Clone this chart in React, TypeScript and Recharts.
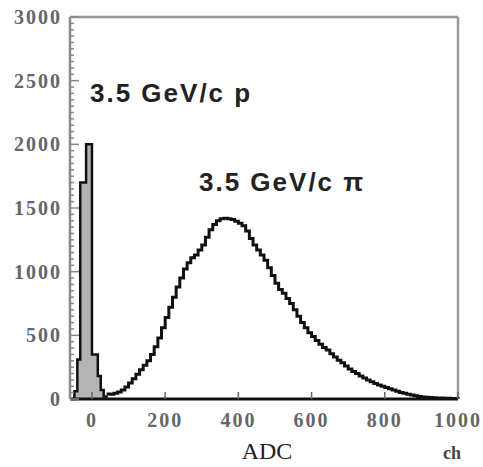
import { Area, ComposedChart, Customized, Line, ReferenceLine, XAxis, YAxis } from "recharts";

// proton peak, bin left edges (ADC ch) and counts
const PROTON_CH = [-56, -48, -40, -32, -24, -16, -8, 0, 8, 16, 24, 32, 40];
const PROTON_COUNTS = [0, 60, 310, 1700, 1700, 2000, 2000, 350, 350, 180, 70, 20, 0];

// pion distribution, bin left edges and counts
const PION_CH = [
  40, 50, 60, 70, 80, 90, 100, 110, 120, 130, 140, 150, 160, 170, 180, 190,
  200, 210, 220, 230, 240, 250, 260, 270, 280, 290, 300, 310, 320, 330, 340, 350,
  360, 370, 380, 390, 400, 410, 420, 430, 440, 450, 460, 470, 480, 490, 500, 510,
  520, 530, 540, 550, 560, 570, 580, 590, 600, 610, 620, 630, 640, 650, 660, 670,
  680, 690, 700, 710, 720, 730, 740, 750, 760, 770, 780, 790, 800, 810, 820, 830,
  840, 850, 860, 870, 880, 890, 900, 910, 920, 930, 940, 950, 960, 970, 980, 990,
  1000,
];
const PION_COUNTS = [
  40, 38, 45, 55, 70, 95, 125, 160, 195, 230, 265, 300, 350, 410, 480, 560,
  640, 720, 800, 880, 950, 1020, 1070, 1110, 1130, 1170, 1210, 1270, 1330, 1370, 1400, 1415,
  1420, 1415, 1410, 1395, 1380, 1360, 1320, 1260, 1210, 1170, 1130, 1090, 1030, 970, 910, 860,
  830, 790, 750, 700, 650, 600, 560, 520, 490, 460, 430, 405, 385, 355, 330, 305,
  285, 260, 235, 215, 200, 180, 165, 150, 135, 122, 110, 100, 90, 80, 70, 60,
  52, 45, 38, 31, 25, 20, 16, 14, 12, 10, 8, 7, 6, 5, 4, 3,
  0,
];

const X_TICKS = [0, 200, 400, 600, 800, 1000];
const Y_TICKS = [0, 500, 1000, 1500, 2000, 2500, 3000];
const Y_MINOR = Array.from({ length: 61 }, (_, i) => i * 50);

const protonData = PROTON_CH.map((ch, i) => ({ ch, count: PROTON_COUNTS[i] }));
const pionData = PION_CH.map((ch, i) => ({ ch, count: PION_COUNTS[i] }));

const PLOT_LEFT = 70;
const PLOT_BOTTOM = 399;
const tickFont = {
  fontFamily: "'Liberation Serif', 'Times New Roman', serif",
  fontWeight: 700,
  fontSize: 20,
  letterSpacing: 2,
  fill: "#666",
};
const annoFont = {
  fontFamily: "'Liberation Sans', Arial, sans-serif",
  fontWeight: 700,
  fontSize: 26,
  letterSpacing: 2,
  fill: "#222",
};

const YTick = (props: any) => {
  const v = props.payload.value;
  const major = Y_TICKS.includes(v);
  return (
    <g>
      <line x1={PLOT_LEFT} x2={PLOT_LEFT + (major ? 9 : 4)} y1={props.y} y2={props.y} stroke="#888" strokeWidth={1.5} />
      {major && (
        <text x={62} y={props.y} dy={7} textAnchor="end" {...tickFont}>
          {v}
        </text>
      )}
    </g>
  );
};

const XTick = (props: any) => (
  <g>
    <line x1={props.x} x2={props.x} y1={PLOT_BOTTOM} y2={PLOT_BOTTOM - 7} stroke="#666" strokeWidth={1.5} />
    <text x={props.x} y={427} textAnchor="middle" {...tickFont}>
      {props.payload.value}
    </text>
  </g>
);

const Texts = () => (
  <g>
    <text x={90} y={102} {...annoFont}>3.5 GeV/c p</text>
    <text x={199} y={191} {...annoFont}>3.5 GeV/c π</text>
    <text
      x={267}
      y={459}
      textAnchor="middle"
      fontFamily="'Liberation Serif', 'Times New Roman', serif"
      fontSize={24}
      fill="#222"
    >
      ADC
    </text>
    <text x={452} y={459} textAnchor="middle" {...tickFont} fontSize={18} letterSpacing={0} fill="#444">
      ch
    </text>
  </g>
);

export default function App() {
  return (
    <div style={{ position: "absolute", left: 0, top: 0, background: "#fff" }}>
      <ComposedChart width={483} height={467} margin={{ top: 17, right: 25, bottom: 0, left: 0 }}>
        <XAxis
          dataKey="ch"
          type="number"
          domain={[-60, 1000]}
          ticks={X_TICKS}
          interval={0}
          allowDuplicatedCategory={false}
          height={68}
          axisLine={{ stroke: "#111", strokeWidth: 3 }}
          tickLine={false}
          tick={<XTick />}
        />
        <YAxis
          type="number"
          domain={[0, 3000]}
          ticks={Y_MINOR}
          interval={0}
          width={70}
          axisLine={{ stroke: "#888", strokeWidth: 2.5 }}
          tickLine={false}
          tick={<YTick />}
        />
        <ReferenceLine y={3000} stroke="#999" strokeWidth={2.5} />
        <ReferenceLine x={1000} stroke="#999" strokeWidth={2.5} />
        <Area
          data={protonData}
          dataKey="count"
          type="stepAfter"
          stroke="#111"
          strokeWidth={2.5}
          fill="#b4b4b4"
          fillOpacity={1}
          isAnimationActive={false}
        />
        <Line
          data={pionData}
          dataKey="count"
          type="stepAfter"
          stroke="#111"
          strokeWidth={3}
          dot={false}
          isAnimationActive={false}
        />
        <Customized component={Texts} />
      </ComposedChart>
    </div>
  );
}
